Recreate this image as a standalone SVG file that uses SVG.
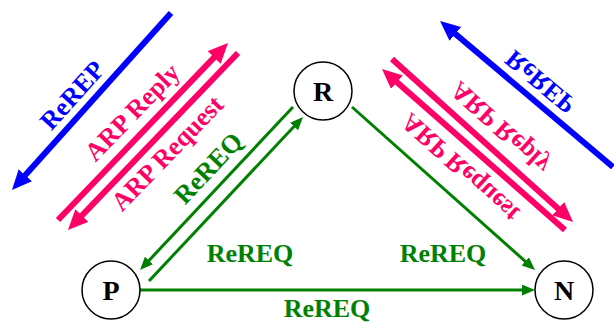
<svg xmlns="http://www.w3.org/2000/svg" width="614" height="323" viewBox="0 0 614 323">
<style>
.node circle{fill:#fff;stroke:#000;stroke-width:1.5}
.node text{font-family:"Liberation Serif","Times New Roman",serif;font-weight:bold;font-size:28px;fill:#000;text-anchor:middle}
.lbl{font-family:"Liberation Serif","Times New Roman",serif;font-weight:bold;font-size:26px;text-anchor:middle}
.pink{stroke:#FF0066;stroke-width:6;fill:none}
.blue{stroke:#0000FF;stroke-width:6;fill:none}
.green{stroke:#008000;stroke-width:3;fill:none}
</style>
<defs>
<marker id="ahPink" markerUnits="userSpaceOnUse" markerWidth="22" markerHeight="20" refX="8" refY="9" orient="auto">
<path d="M0,0 L20,9 L0,18 z" fill="#FF0066"/>
</marker>
<marker id="ahBlue" markerUnits="userSpaceOnUse" markerWidth="22" markerHeight="20" refX="8" refY="9" orient="auto">
<path d="M0,0 L20,9 L0,18 z" fill="#0000FF"/>
</marker>
<marker id="ahGreen" markerUnits="userSpaceOnUse" markerWidth="15" markerHeight="13" refX="5" refY="5.5" orient="auto">
<path d="M0,0 L13,5.5 L0,11 z" fill="#008000"/>
</marker>
</defs>
<g id="connectors">
<line class="blue" x1="171" y1="13" x2="20" y2="181.1" marker-end="url(#ahBlue)"/>
<line class="pink" x1="58" y1="220" x2="219.7" y2="51.7" marker-end="url(#ahPink)"/>
<line class="pink" x1="238" y1="53" x2="76.3" y2="221.3" marker-end="url(#ahPink)"/>
<line class="blue" x1="613" y1="167" x2="449.2" y2="28.7" marker-end="url(#ahBlue)"/>
<line class="pink" x1="392" y1="59" x2="564.1" y2="214" marker-end="url(#ahPink)"/>
<line class="pink" x1="565" y1="230" x2="391" y2="76.9" marker-end="url(#ahPink)"/>
<line class="green" x1="293" y1="107" x2="145.5" y2="264.2" marker-end="url(#ahGreen)"/>
<line class="green" x1="149" y1="281" x2="297.5" y2="122.8" marker-end="url(#ahGreen)"/>
<line class="green" x1="352" y1="107" x2="529" y2="264.7" marker-end="url(#ahGreen)"/>
<line class="green" x1="140" y1="290" x2="527" y2="290" marker-end="url(#ahGreen)"/>
</g>
<g id="labels">
<text class="lbl" fill="#0000FF" transform="translate(72,95) rotate(-48)" y="9">ReREP</text>
<text class="lbl" fill="#FF0066" transform="translate(132,112) rotate(-46)" y="9">ARP Reply</text>
<text class="lbl" fill="#FF0066" transform="translate(167,153) rotate(-46)" y="9">ARP Request</text>
<text class="lbl" fill="#008000" transform="translate(208,168) rotate(-47)" y="9">ReREQ</text>
<text class="lbl" fill="#0000FF" transform="translate(540,82) rotate(40) scale(1,-1)" y="9">ReREP</text>
<text class="lbl" fill="#FF0066" transform="translate(500,128) rotate(42) scale(1,-1)" y="9">ARP Reply</text>
<text class="lbl" fill="#FF0066" transform="translate(460,168) rotate(42) scale(1,-1)" y="9">ARP Request</text>
<text class="lbl" fill="#008000" x="250" y="262">ReREQ</text>
<text class="lbl" fill="#008000" x="443" y="262">ReREQ</text>
<text class="lbl" fill="#008000" x="327" y="317">ReREQ</text>
</g>
<g id="node-R" class="node"><circle cx="323" cy="91" r="29"/><text x="323" y="101">R</text></g>
<g id="node-P" class="node"><circle cx="111" cy="290" r="29"/><text x="111" y="300">P</text></g>
<g id="node-N" class="node"><circle cx="564" cy="290" r="29"/><text x="564" y="300">N</text></g>
</svg>
